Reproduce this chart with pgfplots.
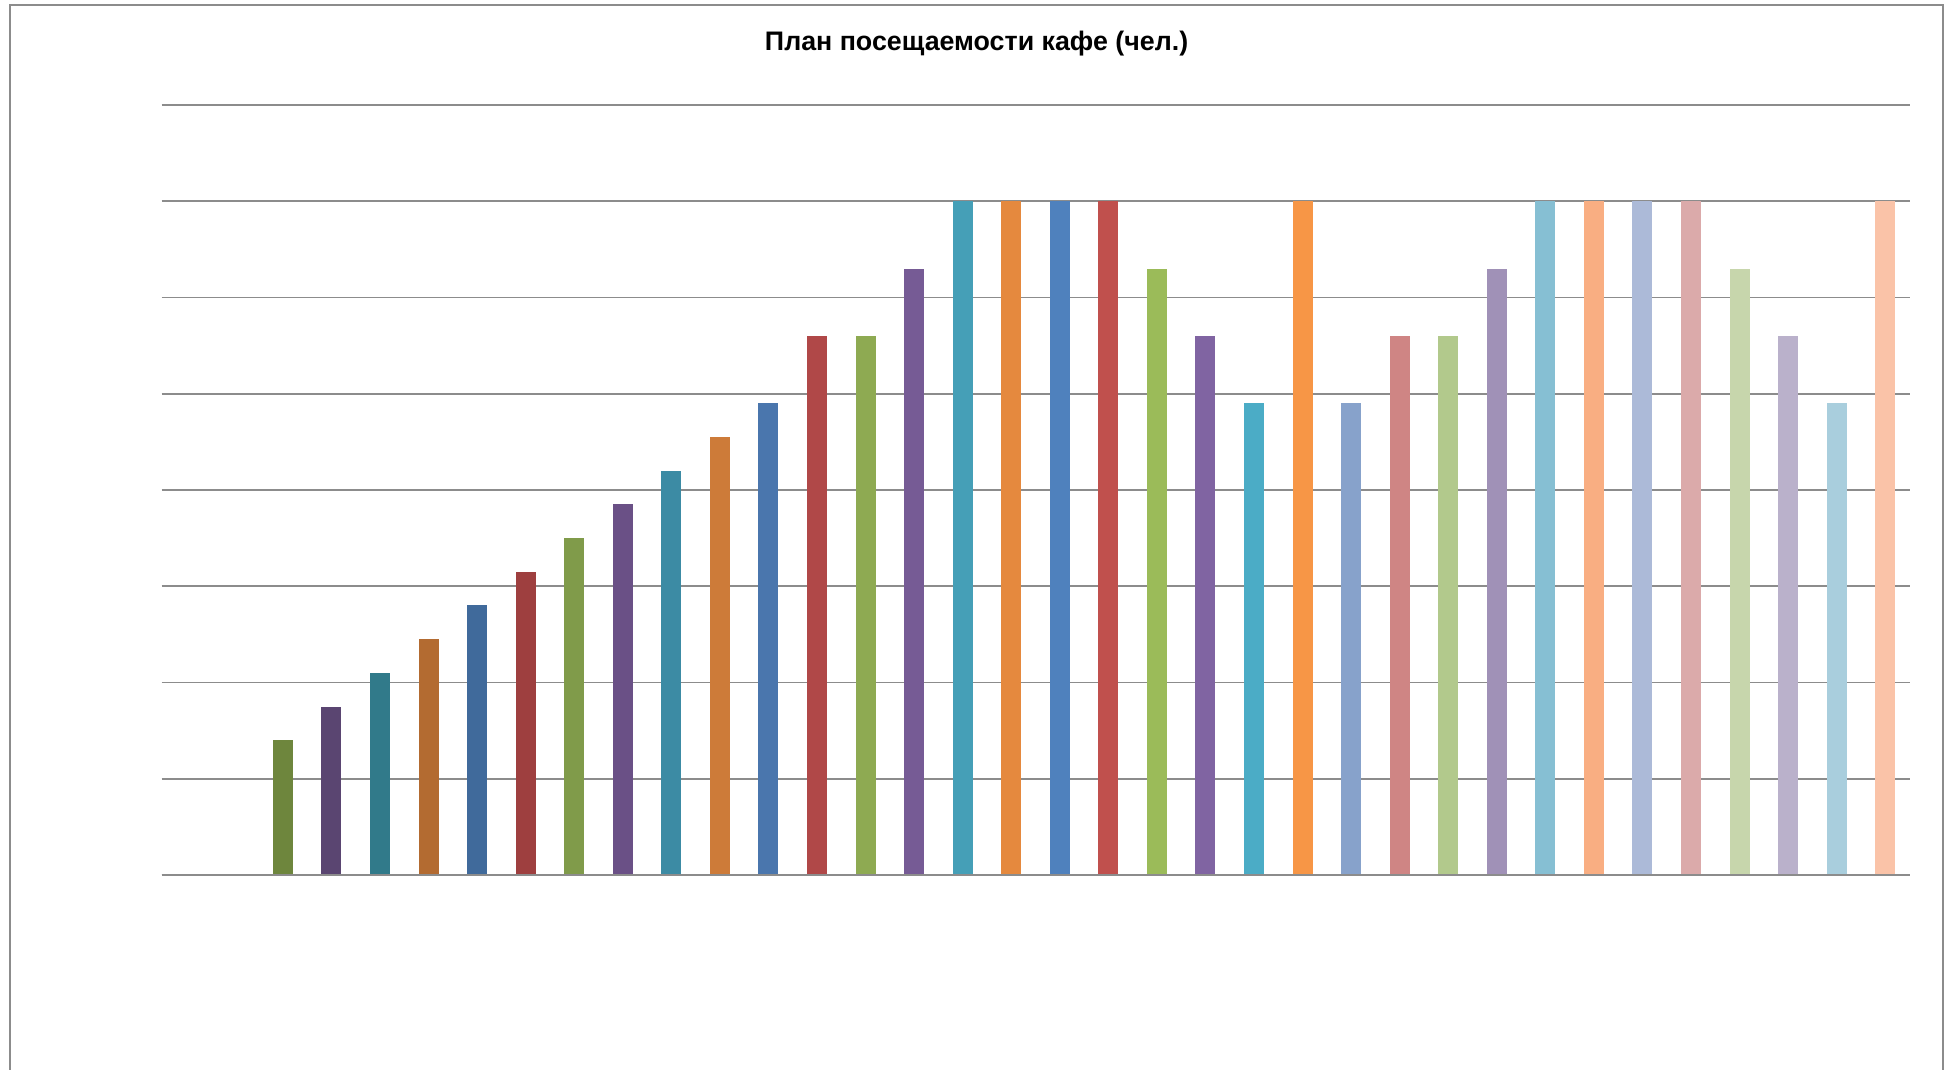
\documentclass[border=0pt]{standalone}
\usepackage{pgfplots}
\pgfplotsset{compat=1.18}
\usepackage{fontspec}
\setmainfont{Liberation Sans}
\definecolor{gridgray}{HTML}{8C8C8C}
\definecolor{ca}{HTML}{6E863D}
\definecolor{cb}{HTML}{5A4571}
\definecolor{cc}{HTML}{317A8A}
\definecolor{cd}{HTML}{B36B31}
\definecolor{ce}{HTML}{406A9B}
\definecolor{cf}{HTML}{9E3F3F}
\definecolor{cg}{HTML}{809B4A}
\definecolor{ch}{HTML}{6A5086}
\definecolor{ci}{HTML}{3C8BA4}
\definecolor{cj}{HTML}{CD7B39}
\definecolor{ck}{HTML}{4A76AD}
\definecolor{cl}{HTML}{B04848}
\definecolor{cm}{HTML}{8EAA52}
\definecolor{cn}{HTML}{765B95}
\definecolor{co}{HTML}{459FB7}
\definecolor{cp}{HTML}{E5893E}
\definecolor{cq}{HTML}{4F81BD}
\definecolor{cr}{HTML}{C0504D}
\definecolor{cs}{HTML}{9BBB59}
\definecolor{ct}{HTML}{8064A2}
\definecolor{cu}{HTML}{4BACC6}
\definecolor{cv}{HTML}{F79646}
\definecolor{cw}{HTML}{87A2CB}
\definecolor{cx}{HTML}{CF8584}
\definecolor{cy}{HTML}{B2C98C}
\definecolor{cz}{HTML}{A091B7}
\definecolor{daa}{HTML}{86BFD3}
\definecolor{dbb}{HTML}{F9AE82}
\definecolor{dcc}{HTML}{ACBAD8}
\definecolor{ddd}{HTML}{DBAAAA}
\definecolor{dee}{HTML}{C7D6AC}
\definecolor{dff}{HTML}{BAB1CB}
\definecolor{dgg}{HTML}{A9CEDD}
\definecolor{dhh}{HTML}{FAC3A8}
\begin{document}
\begin{tikzpicture}
\useasboundingbox (0pt,0pt) rectangle (974pt,535pt);
\draw[gridgray,line width=0.9pt] (5pt,-5pt) -- (5pt,532.5pt) -- (971.5pt,532.5pt) -- (971.5pt,-5pt);
\node[font=\fontsize{13.4}{15}\selectfont\bfseries] at (488.3pt,513pt) {План посещаемости кафе (чел.)};
\begin{axis}[
  at={(80.75pt,97.5pt)}, anchor=south west,
  scale only axis, width=874pt, height=385pt,
  xmin=-0.5, xmax=35.5, ymin=0, ymax=80,
  ytick={0,10,...,80}, yticklabels={},
  xtick=\empty,
  ymajorgrids, grid style={gridgray,line width=0.9pt},
  major tick length=0pt,
  axis line style={draw=none},
  ybar, bar width=10pt, bar shift=0pt,
  every axis plot/.append style={draw=none},
  clip=false,
]
\addplot[fill=ca] coordinates {(2,14)};
\addplot[fill=cb] coordinates {(3,17.5)};
\addplot[fill=cc] coordinates {(4,21)};
\addplot[fill=cd] coordinates {(5,24.5)};
\addplot[fill=ce] coordinates {(6,28)};
\addplot[fill=cf] coordinates {(7,31.5)};
\addplot[fill=cg] coordinates {(8,35)};
\addplot[fill=ch] coordinates {(9,38.5)};
\addplot[fill=ci] coordinates {(10,42)};
\addplot[fill=cj] coordinates {(11,45.5)};
\addplot[fill=ck] coordinates {(12,49)};
\addplot[fill=cl] coordinates {(13,56)};
\addplot[fill=cm] coordinates {(14,56)};
\addplot[fill=cn] coordinates {(15,63)};
\addplot[fill=co] coordinates {(16,70)};
\addplot[fill=cp] coordinates {(17,70)};
\addplot[fill=cq] coordinates {(18,70)};
\addplot[fill=cr] coordinates {(19,70)};
\addplot[fill=cs] coordinates {(20,63)};
\addplot[fill=ct] coordinates {(21,56)};
\addplot[fill=cu] coordinates {(22,49)};
\addplot[fill=cv] coordinates {(23,70)};
\addplot[fill=cw] coordinates {(24,49)};
\addplot[fill=cx] coordinates {(25,56)};
\addplot[fill=cy] coordinates {(26,56)};
\addplot[fill=cz] coordinates {(27,63)};
\addplot[fill=daa] coordinates {(28,70)};
\addplot[fill=dbb] coordinates {(29,70)};
\addplot[fill=dcc] coordinates {(30,70)};
\addplot[fill=ddd] coordinates {(31,70)};
\addplot[fill=dee] coordinates {(32,63)};
\addplot[fill=dff] coordinates {(33,56)};
\addplot[fill=dgg] coordinates {(34,49)};
\addplot[fill=dhh] coordinates {(35,70)};
\draw[gridgray,line width=1.3pt] (axis cs:-0.5,0) -- (axis cs:35.5,0);
\end{axis}
\end{tikzpicture}
\end{document}
